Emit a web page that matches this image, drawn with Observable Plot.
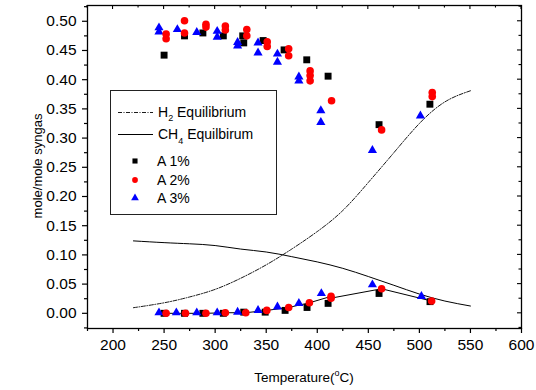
<!DOCTYPE html>
<html><head><meta charset="utf-8">
<script src="https://cdn.jsdelivr.net/npm/d3@7"></script>
<script src="https://cdn.jsdelivr.net/npm/@observablehq/plot@0.6"></script>
<style>
body{margin:0;background:#fff;}
#chart{width:536px;height:390px;}
svg{font-family:"Liberation Sans",Arial,sans-serif;}
</style></head><body><div id="chart"></div>
<script>
// Equilibrium curves
const eqTemps = [220, 250, 275, 300, 325, 350, 375, 400, 425, 450, 475, 500, 525, 550];
const h2Eq    = [0.0096, 0.018, 0.028, 0.041, 0.060, 0.083, 0.110, 0.140, 0.176, 0.224, 0.275, 0.325, 0.362, 0.381];
const ch4Eq   = [0.124, 0.121, 0.119, 0.116, 0.110, 0.105, 0.097, 0.088, 0.077, 0.063, 0.048, 0.033, 0.021, 0.0125];

// A 1% (upper = H2, lower = CH4)
const a1UpperT = [250, 270, 288, 308, 327, 328, 347, 367.5, 389.7, 410.6, 460.5, 510.3];
const a1UpperY = [0.442, 0.475, 0.480, 0.475, 0.475, 0.463, 0.467, 0.451, 0.434, 0.406, 0.323, 0.358];
const a1LowerT = [250, 270, 288, 308, 328, 349, 368.5, 390, 410.6, 460.5, 510.4];
const a1LowerY = [0, 0, 0, 0, 0.002, 0.002, 0.005, 0.010, 0.017, 0.034, 0.020];

// A 2%
const a2UpperT = [252, 252, 270, 270, 291, 291, 310, 310, 331, 331, 351, 351, 372, 372, 393, 393, 393, 414, 463, 512.6, 512.6];
const a2UpperY = [0.478, 0.470, 0.501, 0.480, 0.495, 0.490, 0.492, 0.485, 0.486, 0.475, 0.465, 0.457, 0.453, 0.441, 0.415, 0.407, 0.398, 0.364, 0.314, 0.378, 0.371];
const a2LowerT = [252, 271, 291, 310, 330, 350.6, 372, 392.3, 413.5, 413.5, 463, 512];
const a2LowerY = [0, 0, 0, 0.001, 0.001, 0.005, 0.010, 0.018, 0.029, 0.026, 0.042, 0.021];

// A 3%
const a3UpperT = [245, 245, 263, 282, 302, 302, 322, 322, 342, 342, 361, 361, 382, 382, 403.5, 403.5, 454, 501];
const a3UpperY = [0.489, 0.482, 0.486, 0.481, 0.483, 0.473, 0.464, 0.458, 0.463, 0.446, 0.444, 0.430, 0.405, 0.398, 0.347, 0.327, 0.279, 0.338];
const a3LowerT = [245, 262, 282, 302, 322, 342, 361, 382, 404, 454, 502];
const a3LowerY = [0.001, 0.001, 0.001, 0.001, 0.002, 0.005, 0.011, 0.017, 0.034, 0.049, 0.029];

// Tick values
const xMajor = [200, 250, 300, 350, 400, 450, 500, 550, 600];
const xMinor = [175, 225, 275, 325, 375, 425, 475, 525, 575];
const yMajor = [0, 0.05, 0.10, 0.15, 0.20, 0.25, 0.30, 0.35, 0.40, 0.45, 0.50];
const yMinor = [-0.025, 0.025, 0.075, 0.125, 0.175, 0.225, 0.275, 0.325, 0.375, 0.425, 0.475, 0.525];

const zip = (t, y) => t.map((v, i) => ({x: v, y: y[i]}));
const h2Line = zip(eqTemps, h2Eq);
const ch4Line = zip(eqTemps, ch4Eq);
const a1 = zip(a1UpperT, a1UpperY).concat(zip(a1LowerT, a1LowerY));
const a2 = zip(a2UpperT, a2UpperY).concat(zip(a2LowerT, a2LowerY));
const a3 = zip(a3UpperT, a3UpperY).concat(zip(a3LowerT, a3LowerY));
const a2LowerLine = zip(a2LowerT, a2LowerY);

const FONT = '"Liberation Sans",Arial,sans-serif';
const plot = Plot.plot({
  width: 536, height: 390,
  marginLeft: 87, marginRight: 15, marginTop: 5, marginBottom: 62,
  style: {fontFamily: FONT, fontSize: "15.5px", color: "#000", background: "#fff", overflow: "visible"},
  x: {domain: [175, 600]},
  y: {domain: [-0.026, 0.527]},
  marks: [
    Plot.axisX({ticks: xMajor, tickSize: 5, tickPadding: 5, tickFormat: d3.format("d"), label: null, stroke: "#000", strokeWidth: 1.2}),
    Plot.axisX({ticks: xMinor, tickSize: 3, tickFormat: () => "", label: null, strokeWidth: 1.2}),
    Plot.axisY({ticks: yMajor, tickSize: 5, tickPadding: 6, tickFormat: d3.format(".2f"), label: null, strokeWidth: 1.2}),
    Plot.axisY({ticks: yMinor, tickSize: 3, tickFormat: () => "", label: null, strokeWidth: 1.2}),
    Plot.frame({stroke: "#000", strokeWidth: 1.3}),
    Plot.line(ch4Line, {x: "x", y: "y", stroke: "#000", strokeWidth: 1, curve: "natural"}),
    Plot.line(h2Line, {x: "x", y: "y", stroke: "#000", strokeWidth: 0.9, strokeDasharray: "4,1.5,1,1.5", curve: "natural"}),
    Plot.line(a2LowerLine, {x: "x", y: "y", stroke: "#000", strokeWidth: 1}),
    Plot.dot(a1, {x: "x", y: "y", symbol: "square", fill: "#000", r: 3.9}),
    Plot.dot(a3, {x: "x", y: "y", symbol: "triangle", fill: "#0000ff", r: 3.4}),
    Plot.dot(a2, {x: "x", y: "y", symbol: "circle", fill: "#ff0000", r: 3.8})
  ]
});
document.getElementById("chart").appendChild(plot);

const svg = d3.select(plot);
const xs = plot.scale("x"), ys = plot.scale("y");
const x0 = xs.apply(175), x1 = xs.apply(600), yTop = ys.apply(0.527), yBot = ys.apply(-0.026);
// inward ticks on right and top
const g = svg.append("g").attr("stroke", "#000").attr("stroke-width", 1.1);
yMajor.concat(yMinor).forEach(v => {
  const y = ys.apply(v);
  g.append("line").attr("x1", x1).attr("x2", x1 - (yMajor.includes(v) ? 4 : 2.5)).attr("y1", y).attr("y2", y);
});
xMajor.concat(xMinor).forEach(v => {
  const x = xs.apply(v);
  g.append("line").attr("x1", x).attr("x2", x).attr("y1", yTop).attr("y2", yTop + (xMajor.includes(v) ? 4 : 2.5));
});

// axis titles
const xt = svg.append("text").attr("x", (x0 + x1) / 2).attr("y", 382).attr("text-anchor", "middle")
  .attr("font-family", FONT).attr("font-size", 13.5).attr("fill", "#000");
xt.append("tspan").text("Temperature(");
xt.append("tspan").attr("font-size", 9).attr("dy", -6).text("o");
xt.append("tspan").attr("dy", 6).text("C)");
svg.append("text").attr("transform", "translate(42,166) rotate(-90)").attr("text-anchor", "middle")
  .attr("font-family", FONT).attr("font-size", 13).attr("fill", "#000").text("mole/mole syngas");

// legend
const lg = svg.append("g").attr("font-family", FONT).attr("font-size", 14).attr("fill", "#000").attr("text-anchor", "start");
lg.append("rect").attr("x", 110.5).attr("y", 90.5).attr("width", 166).attr("height", 124)
  .attr("fill", "#fff").attr("stroke", "#222").attr("stroke-width", 1);
lg.append("path").attr("d", "M118,112.5H153").attr("fill", "none")
  .attr("stroke", "#000").attr("stroke-width", 0.9).attr("stroke-dasharray", "4,1.5,1,1.5");
lg.append("path").attr("d", "M118,134.5H153").attr("fill", "none")
  .attr("stroke", "#000").attr("stroke-width", 1);
const t1 = lg.append("text").attr("x", 158).attr("y", 117).attr("text-anchor", "start");
t1.append("tspan").text("H");
t1.append("tspan").attr("font-size", 9).attr("dy", 4).text("2");
t1.append("tspan").attr("dy", -4).text(" Equilibrium");
const t2 = lg.append("text").attr("x", 158).attr("y", 139).attr("text-anchor", "start");
t2.append("tspan").text("CH");
t2.append("tspan").attr("font-size", 9).attr("dy", 5).text("4");
t2.append("tspan").attr("dy", -5).text(" Equilbirum");
const legItems = [
  {label: "A 1%", sym: d3.symbolSquare, fill: "#000", y: 161},
  {label: "A 2%", sym: d3.symbolCircle, fill: "#ff0000", y: 180},
  {label: "A 3%", sym: d3.symbolTriangle, fill: "#0000ff", y: 198}
];
legItems.forEach(d => {
  lg.append("path").attr("d", d3.symbol(d.sym, 26)()).attr("transform", `translate(135,${d.y})`).attr("fill", d.fill);
  lg.append("text").attr("x", 157).attr("y", d.y + 5).attr("text-anchor", "start").text(d.label);
});
</script>
</body></html>
